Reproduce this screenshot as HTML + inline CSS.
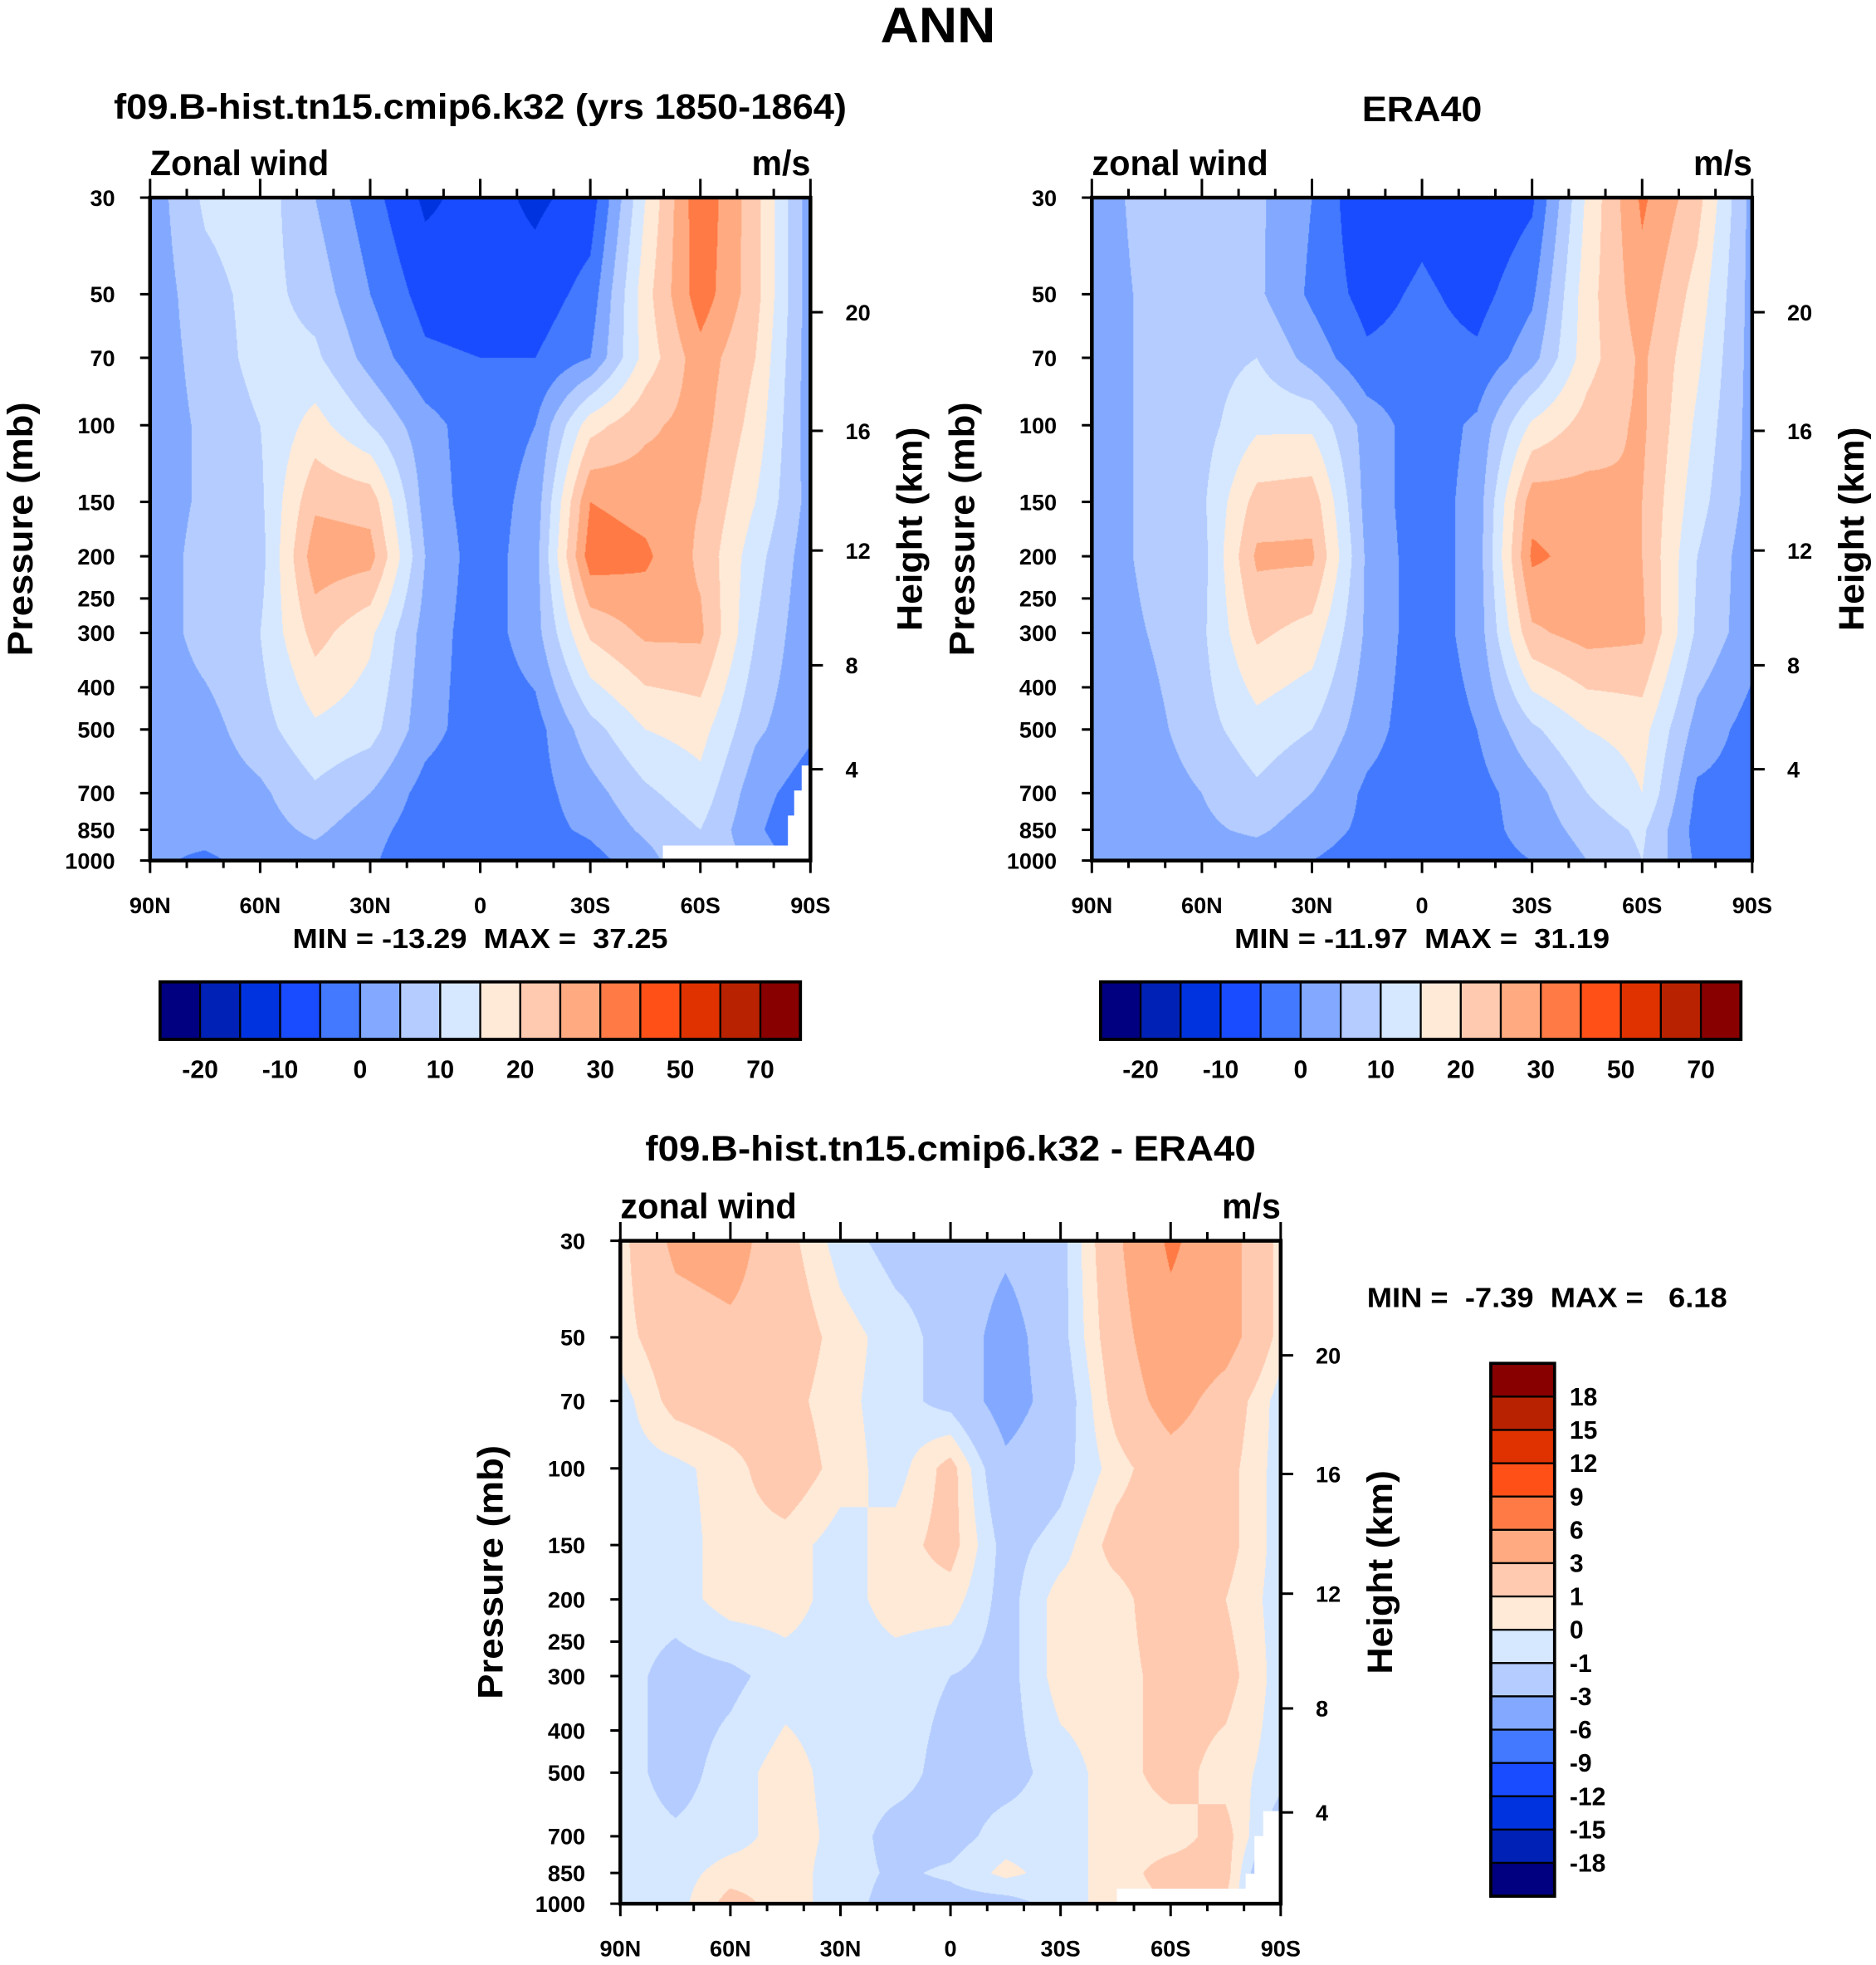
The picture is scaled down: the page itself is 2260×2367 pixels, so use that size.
<!DOCTYPE html>
<html><head><meta charset="utf-8"><style>
html,body{margin:0;padding:0;background:#fff;}
body{width:2260px;height:2366px;overflow:hidden;position:relative;}
#wrap{position:absolute;left:0;top:0;width:1500px;height:1571px;transform:scale(1.50667);transform-origin:0 0;}
canvas{position:absolute;}
svg{position:absolute;left:0;top:0;}
text{font-family:"Liberation Sans",sans-serif;font-weight:bold;fill:#000;}
.pre{white-space:pre;}
</style></head><body>
<div id="wrap">
<canvas id="c1" width="796" height="799" style="left:120px;top:158px;width:528px;height:530px"></canvas>
<canvas id="c2" width="796" height="799" style="left:873px;top:158px;width:528px;height:530px"></canvas>
<canvas id="c3" width="796" height="799" style="left:496px;top:992px;width:528px;height:530px"></canvas>
<svg id="svg" width="1500" height="1571" viewBox="0 0 1500 1571"></svg>
</div>
<script>
// ---- data ----
const lats = [90,75,60,45,30,15,0,-15,-30,-45,-60,-75,-90];
const levels = [30,50,70,100,150,200,300,500,700,850,1000];
const pressureTicks = [30,50,70,100,150,200,250,300,400,500,700,850,1000];
const heightTicks = [20,16,12,8,4];
const heightTickPressure = [55,103,194,356,617];
const latTicks = [90,60,30,0,-30,-60,-90];
const latTickLabels = ["90N","60N","30N","0","30S","60S","90S"];
const colors = ["#000080","#0021b5","#0033e0","#1a4cff","#4279ff","#82a9ff","#b4ccff","#d6e8ff","#ffead8","#ffcab0","#ffaa80","#ff7a45","#ff5018","#e03200","#b82200","#880000"];
const fullLevels = [-20,-15,-10,-5,0,5,10,15,20,25,30,40,50,60,70];
const fullLabels = ["-20","-10","0","10","20","30","50","70"];
const diffLevels = [-18,-15,-12,-9,-6,-3,-1,0,1,3,6,9,12,15,18];
// rows: pressure levels (30..1000), cols: lats 90N..90S
const modelU = [
[2,11,13,5,-3,-11,-8,-11,-8,15,34,22,2],
[2,8,12,8,0,-7,-8,-8,-3,18,33,22,2],
[2,7,12,11,3,-4,-5,-5,0,17,28,20,2],
[2,6,10,17,10,2,-3,0,18,24,27,18,2],
[2,6,9,24,23,3,-3,2,30,28,25,15,3],
[2,7,8,28,27,5,-3,3,33,31,24,12,2],
[2,7,10,22,16,3,-3,3,21,26,26,10,1],
[2,3,8,14,12,2,-3,-2,8,15,17,6,1],
[1,2,4,9,5,-2,-4,-2,3,9,13,2,-3],
[1,2,3,6,2,-3,-3,-2,1,6,10,1,-5],
[1,-1,2,3,1,-5,-4,-5,-2,3,10,3,-3]];
const eraU = [
[2,7,8,6,0,-10,-7,-10,-6,16,31,22,3],
[2,6,8,6,-1,-7,-4,-7,-1,18,28,18,3],
[2,6,8,10,3,-4,-3,-4,3,18,26,16,3],
[2,6,8,14,14,3,-3,1,16,22,26,14,3],
[2,6,9,22,23,3,-3,2,28,27,25,12,3],
[2,6,8,26,26,4,-3,2,31,28,25,10,2],
[2,5,9,21,18,4,-3,2,24,27,26,9,2],
[2,3,8,13,10,2,-3,0,9,15,17,3,-2],
[2,2,5,9,5,-1,-3,-2,3,10,15,-1,-2],
[2,2,4,6,2,-1,-2,-2,2,7,11,-2,-2],
[2,2,2,2,0,-2,-2,-2,0,5,10,-1,-2]];
const diffU = [
[0.5,3.5,4,1.5,-0.5,-1.5,-1.5,-2.5,-1.5,2.5,6.5,4,0.5],
[0.5,2,2.5,2,0.5,-0.5,-1.5,-4,-1.5,2,5,4,0.5],
[-0.5,1.5,2,1.5,0.3,-0.5,-1.5,-4,-2,1.5,4,2,-0.5],
[-0.5,-0.3,0.5,2,0.5,-0.5,1.5,-2.5,-1.5,0.5,2,1.5,-0.5],
[-0.5,-0.5,0.5,0.5,-0.5,0.5,1.5,-1.5,-0.5,1.5,2,1.5,-0.5],
[-0.5,-0.5,0.5,0.5,-0.5,0.5,0.5,-1.5,0.5,0.5,2,1,-0.5],
[-0.5,-1.5,-1.3,-0.5,-0.5,-0.5,-1,-1.5,0.5,0.5,1.5,1.5,-0.5],
[-0.5,-1.5,-0.5,0.5,-0.5,-0.5,-1.5,-1.5,-0.5,0.5,1.5,0.5,-0.5],
[-0.5,-0.8,-0.5,0.5,-0.3,-1.5,-1.5,-0.5,-0.5,0.5,0.5,1.5,-2],
[-0.5,-0.5,0.5,0.5,-0.5,-1.2,-0.8,0.3,-0.5,0.5,1.5,1.5,-4],
[-0.5,-0.5,1.5,0.5,-0.5,-1.5,-1.5,-1.5,-0.5,0.5,1,1,-4]];

// ---- axis helpers ----
const LN = Math.log(1000/30);
function yOf(p, top){ return top + Math.log(p/30)/LN*530; }
function xOf(lat, left){ return left + (90-lat)/180*528; }
function levelIndex(v, lev){ let i=0; while(i<lev.length && v>=lev[i]) i++; return i; }
function hex(c){ return [parseInt(c.substr(1,2),16),parseInt(c.substr(3,2),16),parseInt(c.substr(5,2),16)]; }
const rgb = colors.map(hex);
function sample(grid, lat, p){
  let fx=(90-lat)/15; let i=Math.min(Math.floor(fx),lats.length-2); let tx=fx-i;
  let lp=Math.log(p); let j=0;
  while(j<levels.length-2 && lp>Math.log(levels[j+1])) j++;
  let ty=(lp-Math.log(levels[j]))/(Math.log(levels[j+1])-Math.log(levels[j]));
  ty=Math.max(0,Math.min(1,ty));
  const a=grid[j][i],b=grid[j][i+1],c=grid[j+1][i],d=grid[j+1][i+1];
  return (a*(1-tx)+b*tx)*(1-ty)+(c*(1-tx)+d*tx)*ty;
}
function drawField(id, grid, lev){
  const cv=document.getElementById(id), ctx=cv.getContext('2d');
  const W=cv.width,H=cv.height, img=ctx.createImageData(W,H);
  for(let py=0;py<H;py++){
    const p=30*Math.exp((py+0.5)/H*LN);
    for(let px=0;px<W;px++){
      const lat=90-(px+0.5)/W*180;
      const c=rgb[levelIndex(sample(grid,lat,p),lev)];
      const k=(py*W+px)*4; img.data[k]=c[0];img.data[k+1]=c[1];img.data[k+2]=c[2];img.data[k+3]=255;
    }
  }
  ctx.putImageData(img,0,0);
}
drawField('c1',modelU,fullLevels);
drawField('c2',eraU,fullLevels);
drawField('c3',diffU,diffLevels);

const svg=document.getElementById('svg'), NS='http://www.w3.org/2000/svg';
function el(tag, attrs, parent){ const e=document.createElementNS(NS,tag); for(const k in attrs) e.setAttribute(k,attrs[k]); (parent||svg).appendChild(e); return e; }
function txt(s,x,y,size,anchor,parent,extra){ const a={x:x,y:y,'font-size':size,'text-anchor':anchor||'start'}; if(extra) Object.assign(a,extra); const t=el('text',a,parent); t.textContent=s; return t; }

function panel(left, top, name, title, titleY, titleW, subLeft, missing){
  const g=el('g',{});
  
  
  if(missing){ const m=el('polygon',{points:missing,fill:'#fff'},g);   }
  const t=txt(title,left+264,titleY,28,'middle',g,{textLength:titleW,lengthAdjust:'spacingAndGlyphs'});
   
  const s1=txt(subLeft,left,top-18,28,'start',g,{textLength:subLeft==='zonal wind'?141:143,lengthAdjust:'spacingAndGlyphs'});
   
  const s2=txt('m/s',left+528,top-18,28,'end',g,{textLength:47,lengthAdjust:'spacingAndGlyphs'});
   
  for(let lat=90;lat>=-90;lat-=10){
    const x=xOf(lat,left), major=(lat%30===0);
    el('line',{x1:x,x2:x,y1:top,y2:top-(major?15:7),stroke:'#000','stroke-width':2},g);
    el('line',{x1:x,x2:x,y1:top+530,y2:top+530+(major?10:6),stroke:'#000','stroke-width':2},g);
  }
  latTicks.forEach((lat,i)=>{ const l=txt(latTickLabels[i],xOf(lat,left),top+572,18,'middle',g);   });
  pressureTicks.forEach(p=>{ const y=yOf(p,top);
    el('line',{x1:left-8,x2:left,y1:y,y2:y,stroke:'#000','stroke-width':2},g);
    const l=txt(String(p),left-28,y+6.5,18,'end',g);   });
  heightTicks.forEach((h,i)=>{ const y=yOf(heightTickPressure[i],top);
    el('line',{x1:left+528,x2:left+538,y1:y,y2:y,stroke:'#000','stroke-width':2},g);
    const l=txt(String(h),left+556,y+6.5,18,'start',g);   });
  const ya=txt('Pressure (mb)',0,0,28,'middle',g,{transform:`translate(${left-94},${top+265}) rotate(-90)`,textLength:203,lengthAdjust:'spacingAndGlyphs'});
   
  const yb=txt('Height (km)',0,0,28,'middle',g,{transform:`translate(${left+617},${top+265}) rotate(-90)`,textLength:163,lengthAdjust:'spacingAndGlyphs'});
   
  const fr=el('rect',{x:left,y:top,width:528,height:530,fill:'none',stroke:'#000','stroke-width':3},g);
   
  return g;
}
function hbar(left, name){
  const g=el('g',{});
  
  
  colors.forEach((c,i)=>{ const r=el('rect',{x:left+i*32,y:785,width:32,height:46,fill:c,stroke:'#000','stroke-width':1.5},g);   });
  el('rect',{x:left,y:785,width:512,height:46,fill:'none',stroke:'#000','stroke-width':2.5},g);
  fullLabels.forEach((s,i)=>{ const l=txt(s,left+32+i*64,862,20,'middle',g);   });
}
const ann=txt('ANN',750,34,40,'middle',null,{textLength:92,lengthAdjust:'spacingAndGlyphs'});
 
panel(120,158,'model-panel','f09.B-hist.tn15.cmip6.k32 (yrs 1850-1864)',95,586,'Zonal wind',
 '530,676 630,676 630,652 635,652 635,632 641,632 641,612 648,612 648,688 530,688');
panel(873,158,'era40-panel','ERA40',97,96,'zonal wind',null);
panel(496,992,'difference-panel','f09.B-hist.tn15.cmip6.k32 - ERA40',928,488,'zonal wind',
 '893,1510 996,1510 996,1498 1003,1498 1003,1468 1010,1468 1010,1448 1024,1448 1024,1522 893,1522');
const mm1=txt('MIN = -13.29  MAX =  37.25',384,758,22,'middle',null,{textLength:300,lengthAdjust:'spacingAndGlyphs',class:'pre'});
 
const mm2=txt('MIN = -11.97  MAX =  31.19',1137,758,22,'middle',null,{textLength:300,lengthAdjust:'spacingAndGlyphs',class:'pre'});
 
const mm3=txt('MIN =  -7.39  MAX =   6.18',1093,1045,22,'start',null,{textLength:288,lengthAdjust:'spacingAndGlyphs',class:'pre'});
 
hbar(128,'model-colorbar');
hbar(880,'era40-colorbar');
const vb=el('g',{});


const bh=426/16;
colors.slice().reverse().forEach((c,i)=>{ const r=el('rect',{x:1192,y:1090+i*bh,width:51,height:bh,fill:c,stroke:'#000','stroke-width':1.5},vb);   });
el('rect',{x:1192,y:1090,width:51,height:426,fill:'none',stroke:'#000','stroke-width':2.5},vb);
diffLevels.slice().reverse().forEach((v,i)=>{ const l=txt(String(v),1255,1090+(i+1)*bh+7,20,'start',vb);   });
</script>
</body></html>
